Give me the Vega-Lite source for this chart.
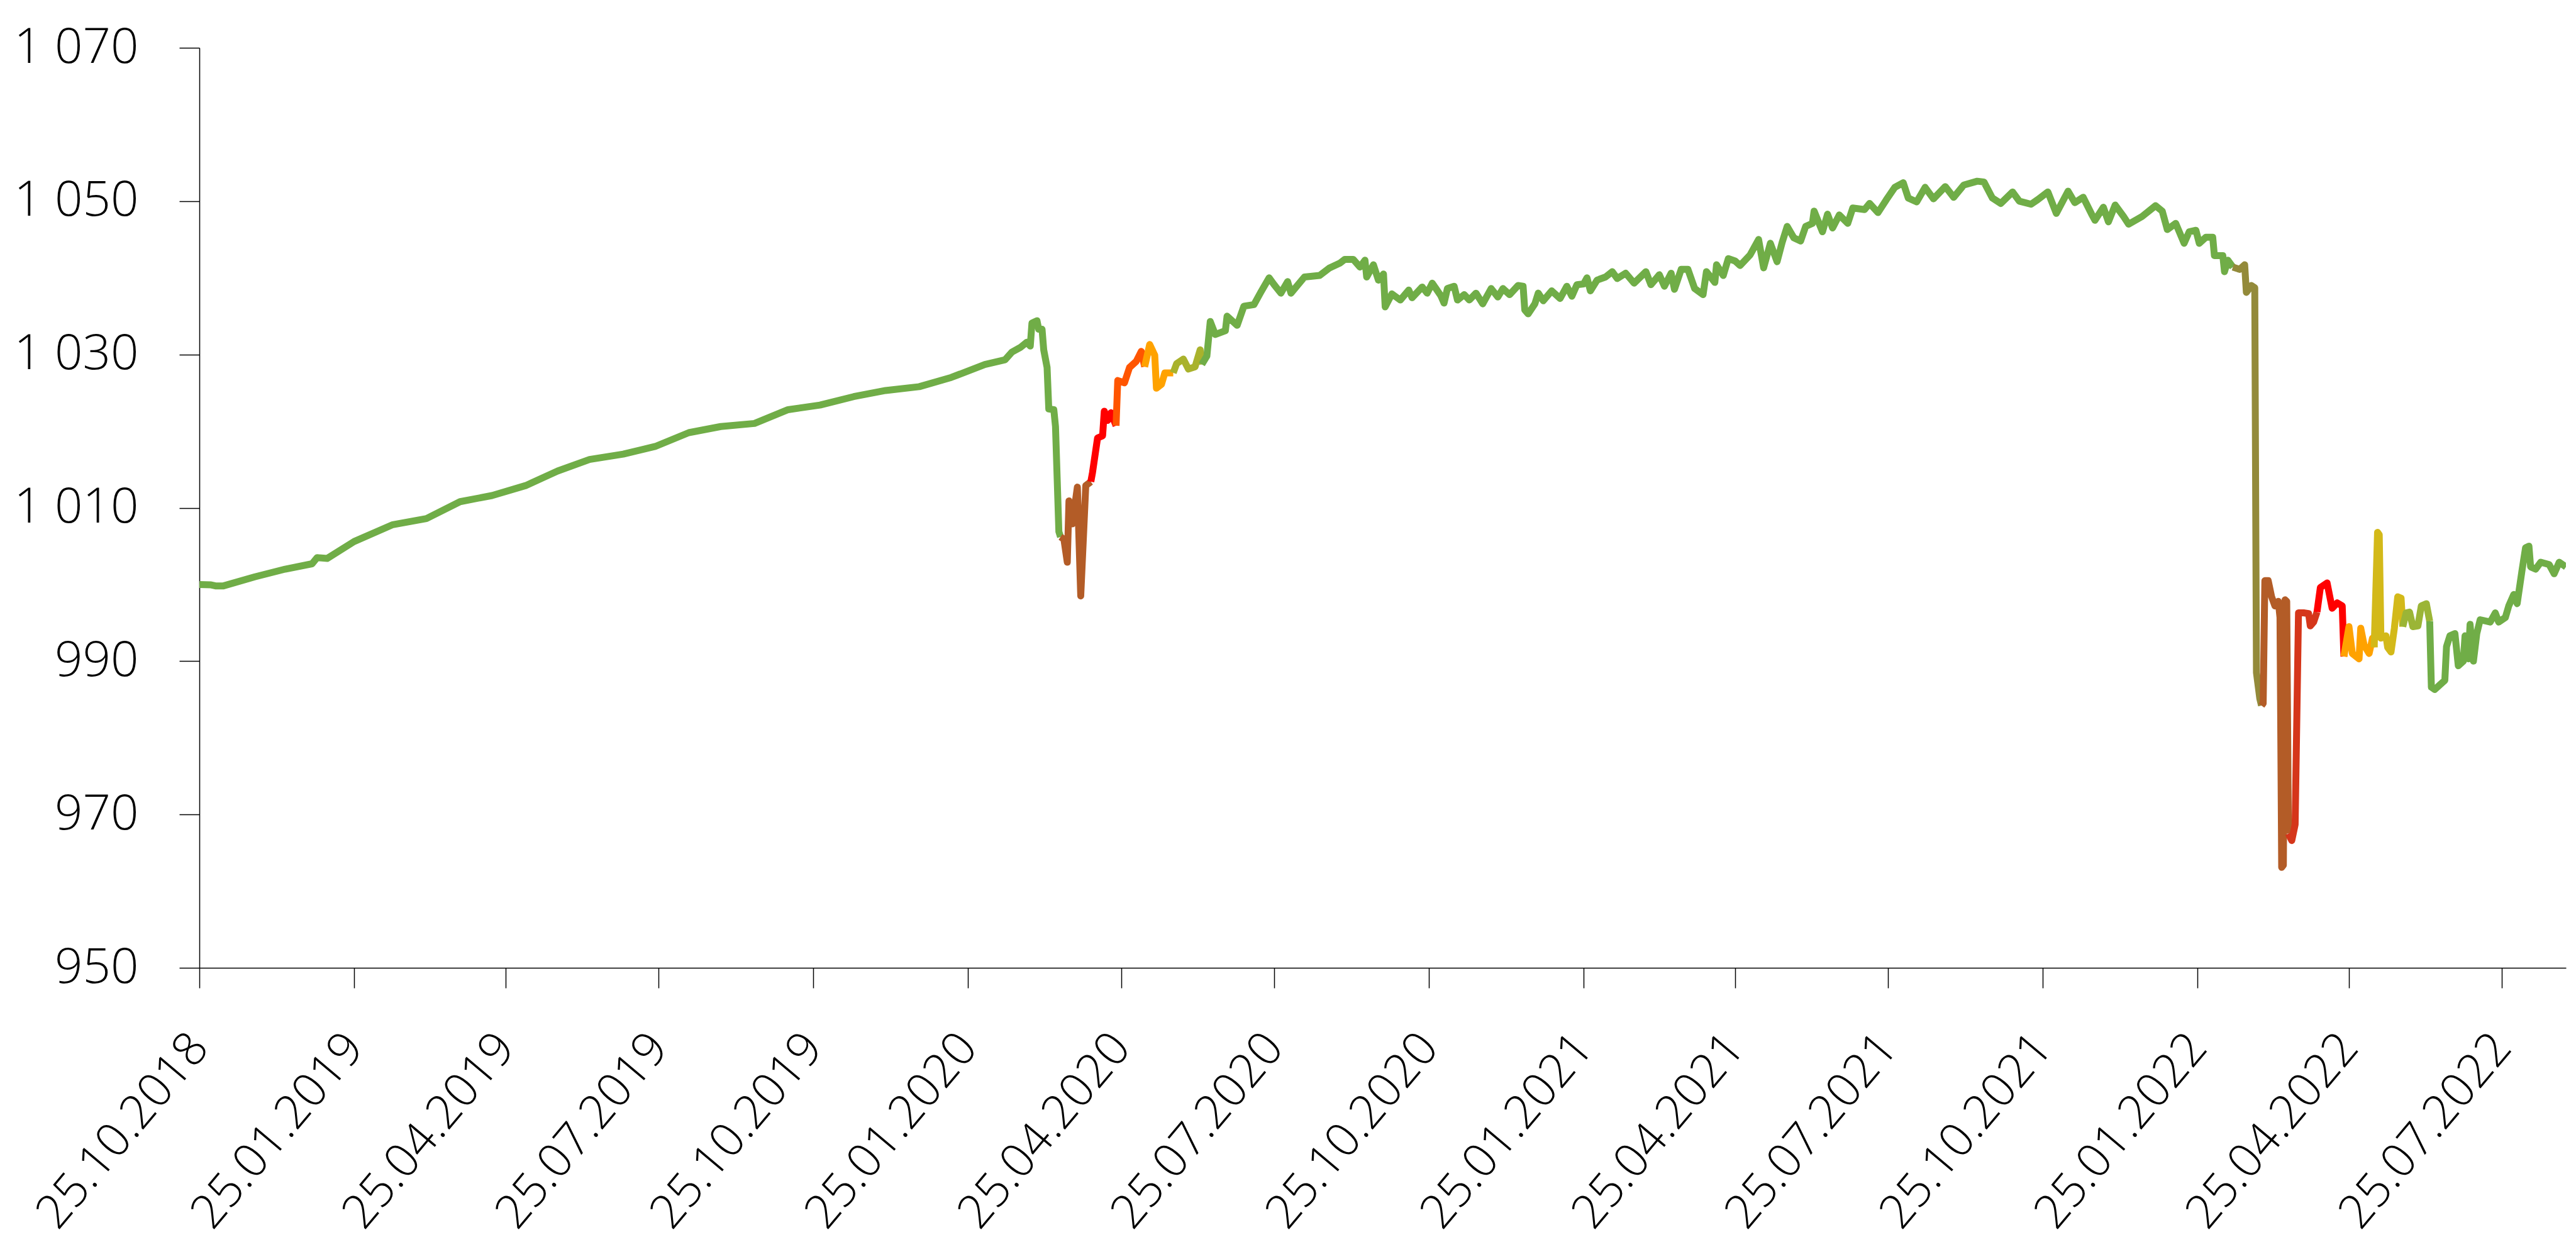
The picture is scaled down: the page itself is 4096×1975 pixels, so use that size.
{
  "$schema": "https://vega.github.io/schema/vega-lite/v6.json",
  "autosize": {"type": "none"},
  "width": 3763,
  "height": 1463,
  "padding": {"left": 317, "top": 76, "right": 16, "bottom": 436},
  "background": "white",
  "config": {"view": {"stroke": null}},
  "data": {"values": [
    {"date":"2018-10-25","value":1000.0,"seg":1,"cat":"green"},
    {"date":"2018-11-01","value":999.95,"seg":1,"cat":"green"},
    {"date":"2018-11-04","value":999.8,"seg":1,"cat":"green"},
    {"date":"2018-11-08","value":999.8,"seg":1,"cat":"green"},
    {"date":"2018-11-27","value":1001.0,"seg":1,"cat":"green"},
    {"date":"2018-12-15","value":1002.0,"seg":1,"cat":"green"},
    {"date":"2018-12-31","value":1002.7,"seg":1,"cat":"green"},
    {"date":"2019-01-03","value":1003.5,"seg":1,"cat":"green"},
    {"date":"2019-01-09","value":1003.4,"seg":1,"cat":"green"},
    {"date":"2019-01-25","value":1005.6,"seg":1,"cat":"green"},
    {"date":"2019-02-17","value":1007.8,"seg":1,"cat":"green"},
    {"date":"2019-03-09","value":1008.6,"seg":1,"cat":"green"},
    {"date":"2019-03-29","value":1010.8,"seg":1,"cat":"green"},
    {"date":"2019-04-17","value":1011.6,"seg":1,"cat":"green"},
    {"date":"2019-05-07","value":1012.9,"seg":1,"cat":"green"},
    {"date":"2019-05-26","value":1014.8,"seg":1,"cat":"green"},
    {"date":"2019-06-14","value":1016.3,"seg":1,"cat":"green"},
    {"date":"2019-07-04","value":1017.0,"seg":1,"cat":"green"},
    {"date":"2019-07-23","value":1018.0,"seg":1,"cat":"green"},
    {"date":"2019-08-12","value":1019.8,"seg":1,"cat":"green"},
    {"date":"2019-08-31","value":1020.6,"seg":1,"cat":"green"},
    {"date":"2019-09-20","value":1021.0,"seg":1,"cat":"green"},
    {"date":"2019-10-10","value":1022.8,"seg":1,"cat":"green"},
    {"date":"2019-10-29","value":1023.4,"seg":1,"cat":"green"},
    {"date":"2019-11-18","value":1024.5,"seg":1,"cat":"green"},
    {"date":"2019-12-07","value":1025.3,"seg":1,"cat":"green"},
    {"date":"2019-12-27","value":1025.8,"seg":1,"cat":"green"},
    {"date":"2020-01-15","value":1027.0,"seg":1,"cat":"green"},
    {"date":"2020-02-04","value":1028.7,"seg":1,"cat":"green"},
    {"date":"2020-02-16","value":1029.3,"seg":1,"cat":"green"},
    {"date":"2020-02-20","value":1030.3,"seg":1,"cat":"green"},
    {"date":"2020-02-25","value":1030.9,"seg":1,"cat":"green"},
    {"date":"2020-02-29","value":1031.6,"seg":1,"cat":"green"},
    {"date":"2020-03-02","value":1031.1,"seg":1,"cat":"green"},
    {"date":"2020-03-03","value":1034.1,"seg":1,"cat":"green"},
    {"date":"2020-03-06","value":1034.4,"seg":1,"cat":"green"},
    {"date":"2020-03-07","value":1033.3,"seg":1,"cat":"green"},
    {"date":"2020-03-09","value":1033.3,"seg":1,"cat":"green"},
    {"date":"2020-03-10","value":1030.6,"seg":1,"cat":"green"},
    {"date":"2020-03-12","value":1028.3,"seg":1,"cat":"green"},
    {"date":"2020-03-13","value":1022.9,"seg":1,"cat":"green"},
    {"date":"2020-03-16","value":1022.8,"seg":1,"cat":"green"},
    {"date":"2020-03-17","value":1020.6,"seg":1,"cat":"green"},
    {"date":"2020-03-19","value":1006.9,"seg":1,"cat":"green"},
    {"date":"2020-03-20","value":1006.2,"seg":1,"cat":"green"},

    {"date":"2020-03-20","value":1006.2,"seg":2,"cat":"brown"},
    {"date":"2020-03-22","value":1005.9,"seg":2,"cat":"brown"},
    {"date":"2020-03-24","value":1002.9,"seg":2,"cat":"brown"},
    {"date":"2020-03-25","value":1010.9,"seg":2,"cat":"brown"},
    {"date":"2020-03-27","value":1007.9,"seg":2,"cat":"brown"},
    {"date":"2020-03-30","value":1012.7,"seg":2,"cat":"brown"},
    {"date":"2020-04-01","value":998.5,"seg":2,"cat":"brown"},
    {"date":"2020-04-04","value":1012.9,"seg":2,"cat":"brown"},
    {"date":"2020-04-07","value":1013.4,"seg":2,"cat":"brown"},

    {"date":"2020-04-07","value":1013.4,"seg":3,"cat":"red"},
    {"date":"2020-04-08","value":1014.6,"seg":3,"cat":"red"},
    {"date":"2020-04-11","value":1019.1,"seg":3,"cat":"red"},
    {"date":"2020-04-14","value":1019.4,"seg":3,"cat":"red"},
    {"date":"2020-04-15","value":1022.6,"seg":3,"cat":"red"},
    {"date":"2020-04-17","value":1021.4,"seg":3,"cat":"red"},
    {"date":"2020-04-19","value":1022.4,"seg":3,"cat":"red"},
    {"date":"2020-04-22","value":1020.7,"seg":3,"cat":"red"},

    {"date":"2020-04-22","value":1020.7,"seg":4,"cat":"orangered"},
    {"date":"2020-04-23","value":1026.6,"seg":4,"cat":"orangered"},
    {"date":"2020-04-27","value":1026.3,"seg":4,"cat":"orangered"},
    {"date":"2020-04-30","value":1028.3,"seg":4,"cat":"orangered"},
    {"date":"2020-05-04","value":1029.1,"seg":4,"cat":"orangered"},
    {"date":"2020-05-07","value":1030.4,"seg":4,"cat":"orangered"},
    {"date":"2020-05-09","value":1028.4,"seg":4,"cat":"orangered"},

    {"date":"2020-05-09","value":1028.4,"seg":5,"cat":"orange"},
    {"date":"2020-05-12","value":1031.3,"seg":5,"cat":"orange"},
    {"date":"2020-05-15","value":1029.9,"seg":5,"cat":"orange"},
    {"date":"2020-05-16","value":1025.6,"seg":5,"cat":"orange"},
    {"date":"2020-05-19","value":1026.1,"seg":5,"cat":"orange"},
    {"date":"2020-05-21","value":1027.6,"seg":5,"cat":"orange"},
    {"date":"2020-05-26","value":1027.6,"seg":5,"cat":"orange"},

    {"date":"2020-05-26","value":1027.6,"seg":6,"cat":"yellowolive"},
    {"date":"2020-05-28","value":1028.8,"seg":6,"cat":"yellowolive"},
    {"date":"2020-06-01","value":1029.4,"seg":6,"cat":"yellowolive"},
    {"date":"2020-06-04","value":1028.1,"seg":6,"cat":"yellowolive"},
    {"date":"2020-06-08","value":1028.4,"seg":6,"cat":"yellowolive"},
    {"date":"2020-06-11","value":1030.6,"seg":6,"cat":"yellowolive"},
    {"date":"2020-06-12","value":1028.7,"seg":6,"cat":"yellowolive"},

    {"date":"2020-06-12","value":1028.7,"seg":7,"cat":"green"},
    {"date":"2020-06-15","value":1029.8,"seg":7,"cat":"green"},
    {"date":"2020-06-17","value":1034.3,"seg":7,"cat":"green"},
    {"date":"2020-06-20","value":1032.6,"seg":7,"cat":"green"},
    {"date":"2020-06-26","value":1033.1,"seg":7,"cat":"green"},
    {"date":"2020-06-27","value":1035.0,"seg":7,"cat":"green"},
    {"date":"2020-07-03","value":1033.8,"seg":7,"cat":"green"},
    {"date":"2020-07-07","value":1036.3,"seg":7,"cat":"green"},
    {"date":"2020-07-13","value":1036.5,"seg":7,"cat":"green"},
    {"date":"2020-07-17","value":1038.1,"seg":7,"cat":"green"},
    {"date":"2020-07-22","value":1040.0,"seg":7,"cat":"green"},
    {"date":"2020-07-25","value":1039.1,"seg":7,"cat":"green"},
    {"date":"2020-07-29","value":1038.0,"seg":7,"cat":"green"},
    {"date":"2020-08-02","value":1039.5,"seg":7,"cat":"green"},
    {"date":"2020-08-04","value":1038.0,"seg":7,"cat":"green"},
    {"date":"2020-08-12","value":1040.1,"seg":7,"cat":"green"},
    {"date":"2020-08-21","value":1040.3,"seg":7,"cat":"green"},
    {"date":"2020-08-27","value":1041.3,"seg":7,"cat":"green"},
    {"date":"2020-09-02","value":1041.9,"seg":7,"cat":"green"},
    {"date":"2020-09-05","value":1042.4,"seg":7,"cat":"green"},
    {"date":"2020-09-10","value":1042.4,"seg":7,"cat":"green"},
    {"date":"2020-09-14","value":1041.4,"seg":7,"cat":"green"},
    {"date":"2020-09-17","value":1042.3,"seg":7,"cat":"green"},
    {"date":"2020-09-18","value":1040.1,"seg":7,"cat":"green"},
    {"date":"2020-09-22","value":1041.7,"seg":7,"cat":"green"},
    {"date":"2020-09-25","value":1039.7,"seg":7,"cat":"green"},
    {"date":"2020-09-28","value":1040.5,"seg":7,"cat":"green"},
    {"date":"2020-09-29","value":1036.2,"seg":7,"cat":"green"},
    {"date":"2020-10-03","value":1037.9,"seg":7,"cat":"green"},
    {"date":"2020-10-08","value":1037.1,"seg":7,"cat":"green"},
    {"date":"2020-10-13","value":1038.4,"seg":7,"cat":"green"},
    {"date":"2020-10-15","value":1037.4,"seg":7,"cat":"green"},
    {"date":"2020-10-21","value":1038.8,"seg":7,"cat":"green"},
    {"date":"2020-10-24","value":1038.0,"seg":7,"cat":"green"},
    {"date":"2020-10-27","value":1039.3,"seg":7,"cat":"green"},
    {"date":"2020-11-01","value":1037.7,"seg":7,"cat":"green"},
    {"date":"2020-11-03","value":1036.7,"seg":7,"cat":"green"},
    {"date":"2020-11-05","value":1038.6,"seg":7,"cat":"green"},
    {"date":"2020-11-09","value":1038.9,"seg":7,"cat":"green"},
    {"date":"2020-11-11","value":1037.1,"seg":7,"cat":"green"},
    {"date":"2020-11-15","value":1037.8,"seg":7,"cat":"green"},
    {"date":"2020-11-18","value":1037.1,"seg":7,"cat":"green"},
    {"date":"2020-11-22","value":1038.0,"seg":7,"cat":"green"},
    {"date":"2020-11-26","value":1036.6,"seg":7,"cat":"green"},
    {"date":"2020-12-01","value":1038.6,"seg":7,"cat":"green"},
    {"date":"2020-12-05","value":1037.5,"seg":7,"cat":"green"},
    {"date":"2020-12-08","value":1038.6,"seg":7,"cat":"green"},
    {"date":"2020-12-12","value":1037.8,"seg":7,"cat":"green"},
    {"date":"2020-12-17","value":1039.0,"seg":7,"cat":"green"},
    {"date":"2020-12-20","value":1038.9,"seg":7,"cat":"green"},
    {"date":"2020-12-21","value":1035.8,"seg":7,"cat":"green"},
    {"date":"2020-12-23","value":1035.3,"seg":7,"cat":"green"},
    {"date":"2020-12-27","value":1036.6,"seg":7,"cat":"green"},
    {"date":"2020-12-29","value":1038.0,"seg":7,"cat":"green"},
    {"date":"2021-01-01","value":1037.0,"seg":7,"cat":"green"},
    {"date":"2021-01-06","value":1038.3,"seg":7,"cat":"green"},
    {"date":"2021-01-11","value":1037.3,"seg":7,"cat":"green"},
    {"date":"2021-01-15","value":1038.9,"seg":7,"cat":"green"},
    {"date":"2021-01-18","value":1037.6,"seg":7,"cat":"green"},
    {"date":"2021-01-21","value":1039.1,"seg":7,"cat":"green"},
    {"date":"2021-01-25","value":1039.2,"seg":7,"cat":"green"},
    {"date":"2021-01-27","value":1040.0,"seg":7,"cat":"green"},
    {"date":"2021-01-29","value":1038.3,"seg":7,"cat":"green"},
    {"date":"2021-02-02","value":1039.7,"seg":7,"cat":"green"},
    {"date":"2021-02-07","value":1040.1,"seg":7,"cat":"green"},
    {"date":"2021-02-11","value":1040.8,"seg":7,"cat":"green"},
    {"date":"2021-02-14","value":1039.9,"seg":7,"cat":"green"},
    {"date":"2021-02-19","value":1040.6,"seg":7,"cat":"green"},
    {"date":"2021-02-24","value":1039.3,"seg":7,"cat":"green"},
    {"date":"2021-03-03","value":1040.8,"seg":7,"cat":"green"},
    {"date":"2021-03-06","value":1039.1,"seg":7,"cat":"green"},
    {"date":"2021-03-11","value":1040.4,"seg":7,"cat":"green"},
    {"date":"2021-03-14","value":1038.9,"seg":7,"cat":"green"},
    {"date":"2021-03-18","value":1040.6,"seg":7,"cat":"green"},
    {"date":"2021-03-20","value":1038.5,"seg":7,"cat":"green"},
    {"date":"2021-03-24","value":1041.1,"seg":7,"cat":"green"},
    {"date":"2021-03-28","value":1041.1,"seg":7,"cat":"green"},
    {"date":"2021-04-01","value":1038.6,"seg":7,"cat":"green"},
    {"date":"2021-04-06","value":1037.8,"seg":7,"cat":"green"},
    {"date":"2021-04-08","value":1040.8,"seg":7,"cat":"green"},
    {"date":"2021-04-13","value":1039.4,"seg":7,"cat":"green"},
    {"date":"2021-04-14","value":1041.7,"seg":7,"cat":"green"},
    {"date":"2021-04-18","value":1040.3,"seg":7,"cat":"green"},
    {"date":"2021-04-21","value":1042.5,"seg":7,"cat":"green"},
    {"date":"2021-04-25","value":1042.2,"seg":7,"cat":"green"},
    {"date":"2021-04-28","value":1041.6,"seg":7,"cat":"green"},
    {"date":"2021-05-04","value":1043.0,"seg":7,"cat":"green"},
    {"date":"2021-05-09","value":1045.0,"seg":7,"cat":"green"},
    {"date":"2021-05-12","value":1041.3,"seg":7,"cat":"green"},
    {"date":"2021-05-16","value":1044.5,"seg":7,"cat":"green"},
    {"date":"2021-05-20","value":1042.1,"seg":7,"cat":"green"},
    {"date":"2021-05-23","value":1044.6,"seg":7,"cat":"green"},
    {"date":"2021-05-26","value":1046.7,"seg":7,"cat":"green"},
    {"date":"2021-05-30","value":1045.2,"seg":7,"cat":"green"},
    {"date":"2021-06-03","value":1044.8,"seg":7,"cat":"green"},
    {"date":"2021-06-06","value":1046.7,"seg":7,"cat":"green"},
    {"date":"2021-06-10","value":1047.1,"seg":7,"cat":"green"},
    {"date":"2021-06-11","value":1048.7,"seg":7,"cat":"green"},
    {"date":"2021-06-16","value":1046.0,"seg":7,"cat":"green"},
    {"date":"2021-06-19","value":1048.3,"seg":7,"cat":"green"},
    {"date":"2021-06-22","value":1046.5,"seg":7,"cat":"green"},
    {"date":"2021-06-26","value":1048.2,"seg":7,"cat":"green"},
    {"date":"2021-07-01","value":1047.1,"seg":7,"cat":"green"},
    {"date":"2021-07-04","value":1049.1,"seg":7,"cat":"green"},
    {"date":"2021-07-11","value":1048.9,"seg":7,"cat":"green"},
    {"date":"2021-07-14","value":1049.7,"seg":7,"cat":"green"},
    {"date":"2021-07-19","value":1048.5,"seg":7,"cat":"green"},
    {"date":"2021-07-24","value":1050.2,"seg":7,"cat":"green"},
    {"date":"2021-07-29","value":1051.8,"seg":7,"cat":"green"},
    {"date":"2021-08-03","value":1052.4,"seg":7,"cat":"green"},
    {"date":"2021-08-06","value":1050.4,"seg":7,"cat":"green"},
    {"date":"2021-08-11","value":1049.9,"seg":7,"cat":"green"},
    {"date":"2021-08-16","value":1051.8,"seg":7,"cat":"green"},
    {"date":"2021-08-21","value":1050.3,"seg":7,"cat":"green"},
    {"date":"2021-08-28","value":1051.9,"seg":7,"cat":"green"},
    {"date":"2021-09-02","value":1050.5,"seg":7,"cat":"green"},
    {"date":"2021-09-08","value":1052.1,"seg":7,"cat":"green"},
    {"date":"2021-09-16","value":1052.6,"seg":7,"cat":"green"},
    {"date":"2021-09-20","value":1052.5,"seg":7,"cat":"green"},
    {"date":"2021-09-25","value":1050.4,"seg":7,"cat":"green"},
    {"date":"2021-09-30","value":1049.7,"seg":7,"cat":"green"},
    {"date":"2021-10-07","value":1051.2,"seg":7,"cat":"green"},
    {"date":"2021-10-11","value":1050.0,"seg":7,"cat":"green"},
    {"date":"2021-10-18","value":1049.6,"seg":7,"cat":"green"},
    {"date":"2021-10-22","value":1050.2,"seg":7,"cat":"green"},
    {"date":"2021-10-28","value":1051.2,"seg":7,"cat":"green"},
    {"date":"2021-11-02","value":1048.4,"seg":7,"cat":"green"},
    {"date":"2021-11-09","value":1051.3,"seg":7,"cat":"green"},
    {"date":"2021-11-13","value":1049.8,"seg":7,"cat":"green"},
    {"date":"2021-11-18","value":1050.5,"seg":7,"cat":"green"},
    {"date":"2021-11-23","value":1048.3,"seg":7,"cat":"green"},
    {"date":"2021-11-25","value":1047.5,"seg":7,"cat":"green"},
    {"date":"2021-11-30","value":1049.2,"seg":7,"cat":"green"},
    {"date":"2021-12-03","value":1047.3,"seg":7,"cat":"green"},
    {"date":"2021-12-07","value":1049.5,"seg":7,"cat":"green"},
    {"date":"2021-12-12","value":1048.0,"seg":7,"cat":"green"},
    {"date":"2021-12-15","value":1047.0,"seg":7,"cat":"green"},
    {"date":"2021-12-23","value":1048.0,"seg":7,"cat":"green"},
    {"date":"2021-12-31","value":1049.4,"seg":7,"cat":"green"},
    {"date":"2022-01-04","value":1048.7,"seg":7,"cat":"green"},
    {"date":"2022-01-07","value":1046.3,"seg":7,"cat":"green"},
    {"date":"2022-01-12","value":1047.1,"seg":7,"cat":"green"},
    {"date":"2022-01-17","value":1044.5,"seg":7,"cat":"green"},
    {"date":"2022-01-20","value":1046.0,"seg":7,"cat":"green"},
    {"date":"2022-01-24","value":1046.2,"seg":7,"cat":"green"},
    {"date":"2022-01-26","value":1044.5,"seg":7,"cat":"green"},
    {"date":"2022-01-30","value":1045.3,"seg":7,"cat":"green"},
    {"date":"2022-02-03","value":1045.3,"seg":7,"cat":"green"},
    {"date":"2022-02-04","value":1042.9,"seg":7,"cat":"green"},
    {"date":"2022-02-09","value":1042.9,"seg":7,"cat":"green"},
    {"date":"2022-02-10","value":1040.8,"seg":7,"cat":"green"},
    {"date":"2022-02-12","value":1042.3,"seg":7,"cat":"green"},
    {"date":"2022-02-15","value":1041.4,"seg":7,"cat":"green"},

    {"date":"2022-02-15","value":1041.4,"seg":8,"cat":"olive"},
    {"date":"2022-02-19","value":1041.1,"seg":8,"cat":"olive"},
    {"date":"2022-02-22","value":1041.7,"seg":8,"cat":"olive"},
    {"date":"2022-02-23","value":1038.1,"seg":8,"cat":"olive"},
    {"date":"2022-02-26","value":1039.0,"seg":8,"cat":"olive"},
    {"date":"2022-02-28","value":1038.7,"seg":8,"cat":"olive"},
    {"date":"2022-03-01","value":988.5,"seg":8,"cat":"olive"},
    {"date":"2022-03-03","value":985.1,"seg":8,"cat":"olive"},
    {"date":"2022-03-04","value":984.2,"seg":8,"cat":"olive"},

    {"date":"2022-03-04","value":984.2,"seg":9,"cat":"brown"},
    {"date":"2022-03-05","value":984.5,"seg":9,"cat":"brown"},
    {"date":"2022-03-06","value":1000.5,"seg":9,"cat":"brown"},
    {"date":"2022-03-08","value":1000.5,"seg":9,"cat":"brown"},
    {"date":"2022-03-10","value":998.4,"seg":9,"cat":"brown"},
    {"date":"2022-03-12","value":997.2,"seg":9,"cat":"brown"},
    {"date":"2022-03-14","value":997.8,"seg":9,"cat":"brown"},
    {"date":"2022-03-15","value":995.7,"seg":9,"cat":"brown"},
    {"date":"2022-03-16","value":963.1,"seg":9,"cat":"brown"},
    {"date":"2022-03-17","value":963.4,"seg":9,"cat":"brown"},
    {"date":"2022-03-18","value":998.0,"seg":9,"cat":"brown"},
    {"date":"2022-03-19","value":997.8,"seg":9,"cat":"brown"},
    {"date":"2022-03-20","value":967.5,"seg":9,"cat":"brown"},

    {"date":"2022-03-20","value":967.5,"seg":10,"cat":"redorange"},
    {"date":"2022-03-22","value":966.6,"seg":10,"cat":"redorange"},
    {"date":"2022-03-24","value":968.7,"seg":10,"cat":"redorange"},
    {"date":"2022-03-26","value":996.3,"seg":10,"cat":"redorange"},
    {"date":"2022-03-29","value":996.3,"seg":10,"cat":"redorange"},
    {"date":"2022-04-01","value":996.2,"seg":10,"cat":"redorange"},
    {"date":"2022-04-02","value":994.6,"seg":10,"cat":"redorange"},
    {"date":"2022-04-04","value":995.1,"seg":10,"cat":"redorange"},
    {"date":"2022-04-06","value":996.4,"seg":10,"cat":"redorange"},

    {"date":"2022-04-06","value":996.4,"seg":11,"cat":"red"},
    {"date":"2022-04-08","value":999.6,"seg":11,"cat":"red"},
    {"date":"2022-04-12","value":1000.2,"seg":11,"cat":"red"},
    {"date":"2022-04-15","value":996.9,"seg":11,"cat":"red"},
    {"date":"2022-04-18","value":997.6,"seg":11,"cat":"red"},
    {"date":"2022-04-21","value":997.2,"seg":11,"cat":"red"},
    {"date":"2022-04-22","value":990.6,"seg":11,"cat":"red"},

    {"date":"2022-04-22","value":990.6,"seg":12,"cat":"orange"},
    {"date":"2022-04-25","value":994.5,"seg":12,"cat":"orange"},
    {"date":"2022-04-27","value":991.0,"seg":12,"cat":"orange"},
    {"date":"2022-05-01","value":990.3,"seg":12,"cat":"orange"},
    {"date":"2022-05-02","value":994.3,"seg":12,"cat":"orange"},
    {"date":"2022-05-04","value":992.1,"seg":12,"cat":"orange"},
    {"date":"2022-05-07","value":991.0,"seg":12,"cat":"orange"},
    {"date":"2022-05-09","value":993.0,"seg":12,"cat":"orange"},
    {"date":"2022-05-10","value":991.8,"seg":12,"cat":"orange"},

    {"date":"2022-05-10","value":991.8,"seg":13,"cat":"yellow"},
    {"date":"2022-05-12","value":1006.8,"seg":13,"cat":"yellow"},
    {"date":"2022-05-13","value":1006.5,"seg":13,"cat":"yellow"},
    {"date":"2022-05-14","value":993.0,"seg":13,"cat":"yellow"},
    {"date":"2022-05-17","value":993.3,"seg":13,"cat":"yellow"},
    {"date":"2022-05-18","value":991.8,"seg":13,"cat":"yellow"},
    {"date":"2022-05-20","value":991.2,"seg":13,"cat":"yellow"},
    {"date":"2022-05-22","value":994.3,"seg":13,"cat":"yellow"},
    {"date":"2022-05-24","value":998.4,"seg":13,"cat":"yellow"},
    {"date":"2022-05-26","value":998.2,"seg":13,"cat":"yellow"},
    {"date":"2022-05-27","value":994.5,"seg":13,"cat":"yellow"},

    {"date":"2022-05-27","value":994.5,"seg":14,"cat":"lightolive"},
    {"date":"2022-05-29","value":996.3,"seg":14,"cat":"lightolive"},
    {"date":"2022-05-31","value":996.4,"seg":14,"cat":"lightolive"},
    {"date":"2022-06-02","value":994.5,"seg":14,"cat":"lightolive"},
    {"date":"2022-06-05","value":994.6,"seg":14,"cat":"lightolive"},
    {"date":"2022-06-07","value":997.2,"seg":14,"cat":"lightolive"},
    {"date":"2022-06-10","value":997.5,"seg":14,"cat":"lightolive"},
    {"date":"2022-06-12","value":995.2,"seg":14,"cat":"lightolive"},

    {"date":"2022-06-12","value":995.2,"seg":15,"cat":"green"},
    {"date":"2022-06-13","value":986.6,"seg":15,"cat":"green"},
    {"date":"2022-06-15","value":986.3,"seg":15,"cat":"green"},
    {"date":"2022-06-18","value":986.9,"seg":15,"cat":"green"},
    {"date":"2022-06-21","value":987.5,"seg":15,"cat":"green"},
    {"date":"2022-06-22","value":991.9,"seg":15,"cat":"green"},
    {"date":"2022-06-24","value":993.3,"seg":15,"cat":"green"},
    {"date":"2022-06-27","value":993.6,"seg":15,"cat":"green"},
    {"date":"2022-06-29","value":989.4,"seg":15,"cat":"green"},
    {"date":"2022-07-02","value":990.0,"seg":15,"cat":"green"},
    {"date":"2022-07-03","value":993.3,"seg":15,"cat":"green"},
    {"date":"2022-07-05","value":990.3,"seg":15,"cat":"green"},
    {"date":"2022-07-06","value":994.8,"seg":15,"cat":"green"},
    {"date":"2022-07-08","value":990.0,"seg":15,"cat":"green"},
    {"date":"2022-07-10","value":993.6,"seg":15,"cat":"green"},
    {"date":"2022-07-12","value":995.4,"seg":15,"cat":"green"},
    {"date":"2022-07-18","value":995.1,"seg":15,"cat":"green"},
    {"date":"2022-07-21","value":996.3,"seg":15,"cat":"green"},
    {"date":"2022-07-23","value":995.1,"seg":15,"cat":"green"},
    {"date":"2022-07-27","value":995.7,"seg":15,"cat":"green"},
    {"date":"2022-07-29","value":997.2,"seg":15,"cat":"green"},
    {"date":"2022-08-01","value":998.7,"seg":15,"cat":"green"},
    {"date":"2022-08-03","value":997.5,"seg":15,"cat":"green"},
    {"date":"2022-08-06","value":1002.0,"seg":15,"cat":"green"},
    {"date":"2022-08-08","value":1004.8,"seg":15,"cat":"green"},
    {"date":"2022-08-10","value":1005.0,"seg":15,"cat":"green"},
    {"date":"2022-08-11","value":1002.3,"seg":15,"cat":"green"},
    {"date":"2022-08-14","value":1002.0,"seg":15,"cat":"green"},
    {"date":"2022-08-17","value":1002.9,"seg":15,"cat":"green"},
    {"date":"2022-08-22","value":1002.6,"seg":15,"cat":"green"},
    {"date":"2022-08-25","value":1001.4,"seg":15,"cat":"green"},
    {"date":"2022-08-28","value":1002.9,"seg":15,"cat":"green"},
    {"date":"2022-09-01","value":1002.3,"seg":15,"cat":"green"}
  ]},
  "mark": {"type": "line", "strokeWidth": 11, "strokeJoin": "round", "strokeCap": "butt", "clip": true},
  "encoding": {
    "x": {
      "field": "date", "type": "temporal",
      "scale": {"type": "utc", "domain": [{"year": 2018, "month": 10, "date": 25, "utc": true}, {"year": 2022, "month": 9, "date": 1, "utc": true}]},
      "axis": {
        "title": null, "grid": false,
        "values": [
          {"year": 2018, "month": 10, "date": 25, "utc": true},
          {"year": 2019, "month": 1, "date": 25, "utc": true},
          {"year": 2019, "month": 4, "date": 25, "utc": true},
          {"year": 2019, "month": 7, "date": 25, "utc": true},
          {"year": 2019, "month": 10, "date": 25, "utc": true},
          {"year": 2020, "month": 1, "date": 25, "utc": true},
          {"year": 2020, "month": 4, "date": 25, "utc": true},
          {"year": 2020, "month": 7, "date": 25, "utc": true},
          {"year": 2020, "month": 10, "date": 25, "utc": true},
          {"year": 2021, "month": 1, "date": 25, "utc": true},
          {"year": 2021, "month": 4, "date": 25, "utc": true},
          {"year": 2021, "month": 7, "date": 25, "utc": true},
          {"year": 2021, "month": 10, "date": 25, "utc": true},
          {"year": 2022, "month": 1, "date": 25, "utc": true},
          {"year": 2022, "month": 4, "date": 25, "utc": true},
          {"year": 2022, "month": 7, "date": 25, "utc": true}
        ],
        "format": "%d.%m.%Y",
        "labelAngle": -50,
        "labelAlign": "right",
        "labelBaseline": "middle",
        "labelFont": "Open Sans", "labelFontWeight": 300, "labelFontSize": 75, "labelColor": "#000000",
        "labelPadding": 82, "labelOverlap": false, "labelFlush": false, "labelBound": false, "labelLimit": 2000,
        "tickSize": 32, "tickWidth": 1.5, "tickColor": "#000000",
        "domainWidth": 1.5, "domainColor": "#000000"
      }
    },
    "y": {
      "field": "value", "type": "quantitative",
      "scale": {"domain": [950, 1070], "nice": false, "zero": false},
      "axis": {
        "title": null, "grid": false,
        "values": [950, 970, 990, 1010, 1030, 1050, 1070],
        "labelExpr": "replace(format(datum.value, ',d'), ',', ' ')",
        "labelFont": "Open Sans", "labelFontWeight": 300, "labelFontSize": 78, "labelColor": "#000000",
        "labelPadding": 65, "labelOverlap": false, "labelFlush": false, "labelBound": false, "labelLimit": 2000,
        "tickSize": 32, "tickWidth": 1.5, "tickColor": "#000000",
        "domainWidth": 1.5, "domainColor": "#000000"
      }
    },
    "detail": {"field": "seg", "type": "nominal"},
    "color": {
      "field": "cat", "type": "nominal", "legend": null,
      "scale": {
        "domain": ["green", "olive", "brown", "redorange", "red", "orangered", "orange", "yellowolive", "yellow", "lightolive"],
        "range": ["#70AD47", "#938A3A", "#B35C27", "#D5361A", "#FF0000", "#FF5500", "#FFA200", "#A9B22C", "#D3B919", "#9BB536"]
      }
    }
  }
}
